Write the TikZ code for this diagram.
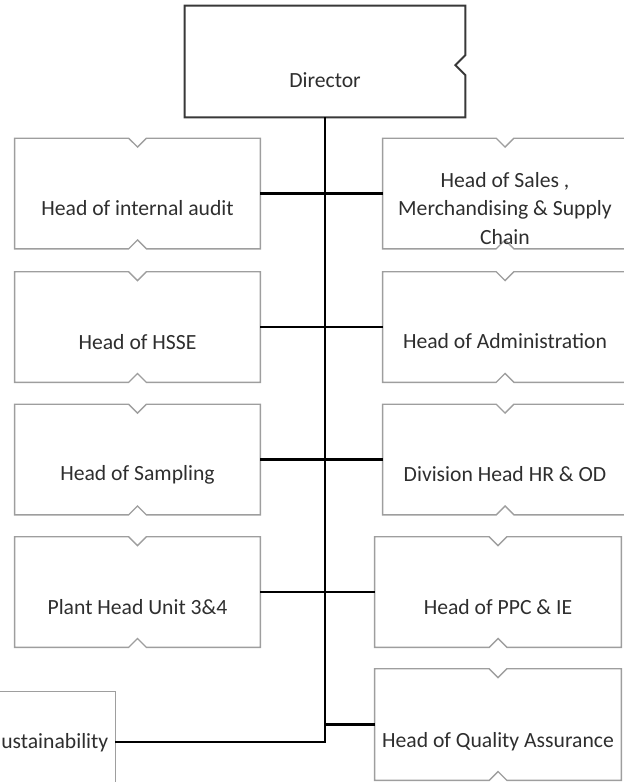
\documentclass[tikz,border=0pt]{standalone}
\usepackage{fontspec}
\setmainfont{Carlito}

\tikzset{
  unitbox/.style={minimum width=6.125cm, minimum height=2.75cm, inner sep=0pt},
  boxline/.style={draw=black!38, line width=1pt, line join=miter},
  linkline/.style={draw=black, line width=2pt},
  roletext/.style={text=black!82, font=\fontsize{15.4}{20.3}\selectfont, align=center, inner sep=0pt}
}

\begin{document}
\begin{tikzpicture}[x=0.025cm, y=-0.025cm]
\useasboundingbox (0,0) rectangle (624,782);
\clip (0,0) rectangle (624,782);

\node[unitbox, minimum width=7cm, minimum height=2.775cm] (director) at (325,61.5) {};
\node[unitbox] (audit) at (137.5,193.5) {};
\node[unitbox, minimum width=6.1cm] (sales) at (505,193.5) {};
\node[unitbox] (hsse) at (137.5,327) {};
\node[unitbox, minimum width=6.1cm] (admin) at (505,327) {};
\node[unitbox] (sampling) at (137.5,459.5) {};
\node[unitbox, minimum width=6.1cm] (hrod) at (505,459.5) {};
\node[unitbox] (plant) at (137.5,592) {};
\node[unitbox, minimum width=6.15cm] (ppc) at (498,592) {};
\node[unitbox, minimum width=6.15cm, minimum height=2.775cm] (qa) at (498,724.5) {};
\node[unitbox, minimum height=2.5cm] (sust) at (-7.5,742) {};

\draw[boxline, draw=black!78, line width=1.4pt] (director.north west) -- (director.north east)
  -- ([yshift=0.16cm]director.east) -- ([xshift=-0.25cm,yshift=-0.09cm]director.east)
  -- ([yshift=-0.34cm]director.east) -- (director.south east) -- (director.south west) -- cycle;

\foreach \n in {audit,sales,hsse,admin,sampling,hrod,plant,ppc,qa}
  \draw[boxline] (\n.north west) -- ([xshift=-0.22cm]\n.north) -- ([yshift=-0.22cm]\n.north)
    -- ([xshift=0.22cm]\n.north) -- (\n.north east) -- (\n.south east)
    -- ([xshift=0.22cm]\n.south) -- ([yshift=0.22cm]\n.south) -- ([xshift=-0.22cm]\n.south)
    -- (\n.south west) -- cycle;

\draw[boxline] (sust.north west) rectangle (sust.south east);

\node[roletext] (director-t) at ([yshift=-0.46cm]director.center) {Director};
\node[roletext] (audit-t) at ([yshift=-0.37cm]audit.center) {Head of internal audit};
\node[roletext] (sales-t) at ([yshift=-0.37cm]sales.center) {Head of Sales ,\\Merchandising \& Supply\\Chain};
\node[roletext] (hsse-t) at ([yshift=-0.38cm]hsse.center) {Head of HSSE};
\node[roletext] (admin-t) at ([yshift=-0.35cm]admin.center) {Head of Administration};
\node[roletext] (sampling-t) at ([yshift=-0.38cm]sampling.center) {Head of Sampling};
\node[roletext] (hrod-t) at ([yshift=-0.37cm]hrod.center) {Division Head HR \& OD};
\node[roletext] (plant-t) at ([yshift=-0.38cm]plant.center) {Plant Head Unit 3\&4};
\node[roletext] (ppc-t) at ([yshift=-0.38cm]ppc.center) {Head of PPC \& IE};
\node[roletext] (qa-t) at ([yshift=-0.44cm]qa.center) {Head of Quality Assurance};
\node[roletext, anchor=west] (sust-t) at (1,743) {ustainability};

\draw[linkline] (director.south) |- (sust.east);
\draw[linkline] (audit.east) -- (sales.west);
\draw[linkline] (hsse.east) -- (admin.west);
\draw[linkline] (sampling.east) -- (hrod.west);
\draw[linkline] (plant.east) -- (ppc.west);
\draw[linkline] (qa.west) -- (qa.west -| director.south);
\end{tikzpicture}
\end{document}
